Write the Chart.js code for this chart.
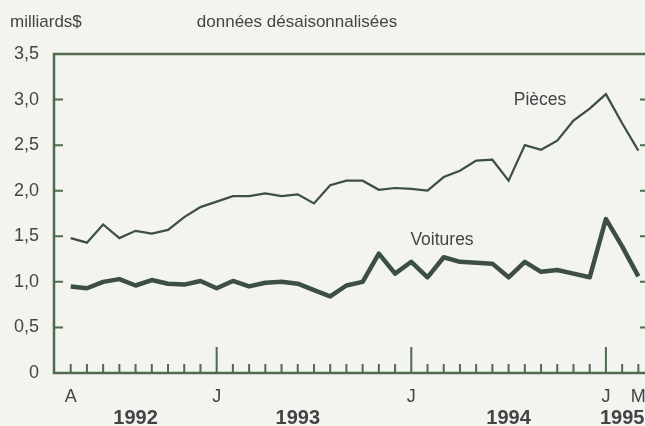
<!DOCTYPE html>
<html><head><meta charset="utf-8">
<script src="https://cdn.jsdelivr.net/npm/chart.js@4.4.1/dist/chart.umd.min.js"></script>
<style>
html,body{margin:0;padding:0;background:#f3f3f0;overflow:hidden}
#wrap{width:645px;height:426px;position:relative}
</style></head>
<body><div id="wrap"><canvas id="c"></canvas></div>
<script>
const BG='#f3f3f0', AXIS='#4f6b4c', LINE='#3c4f40', TXT='#444';
const FONT='"Liberation Sans", Arial, sans-serif';

// months, avr. 1992 -> mars 1995
const months = ['1992-04','1992-05','1992-06','1992-07','1992-08','1992-09','1992-10','1992-11','1992-12',
  '1993-01','1993-02','1993-03','1993-04','1993-05','1993-06','1993-07','1993-08','1993-09','1993-10','1993-11','1993-12',
  '1994-01','1994-02','1994-03','1994-04','1994-05','1994-06','1994-07','1994-08','1994-09','1994-10','1994-11','1994-12',
  '1995-01','1995-02','1995-03'];
const pieces = [1.48,1.43,1.63,1.48,1.56,1.53,1.57,1.71,1.82,
  1.88,1.94,1.94,1.97,1.94,1.96,1.86,2.06,2.11,2.11,2.01,2.03,
  2.02,2.00,2.15,2.22,2.33,2.34,2.11,2.50,2.45,2.55,2.77,2.90,
  3.06,2.74,2.44];
const voitures = [0.95,0.93,1.00,1.03,0.96,1.02,0.98,0.97,1.01,
  0.93,1.01,0.95,0.99,1.00,0.98,0.91,0.84,0.96,1.00,1.31,1.09,
  1.22,1.05,1.27,1.22,1.21,1.20,1.05,1.22,1.11,1.13,1.09,1.05,
  1.69,1.39,1.06];
const monthLabels = {'1992-04':'A','1993-01':'J','1994-01':'J','1995-01':'J','1995-03':'M'};
const yearLabels = {'1992-08':'1992','1993-06':'1993','1994-07':'1994','1995-02':'1995'};
const majorTicks = ['1993-01','1994-01','1995-01'];
const yTicks = [0,0.5,1,1.5,2,2.5,3,3.5];

const pts = arr => arr.map((v,i)=>({x:i,y:v}));
const idxTicks = s => { s.ticks = months.map((m,i)=>({value:i})); };

const frame = {
  id:'frame',
  beforeDraw(c){
    const ctx=c.ctx; ctx.save(); ctx.fillStyle=BG; ctx.fillRect(0,0,c.width,c.height); ctx.restore();
  },
  afterDraw(c){
    const {ctx, chartArea:a, scales:{x,y}} = c;
    ctx.save();
    ctx.strokeStyle=AXIS; ctx.lineWidth=2.5; ctx.lineCap='butt';
    ctx.beginPath();
    ctx.moveTo(a.right+2,a.top); ctx.lineTo(a.left,a.top); ctx.lineTo(a.left,a.bottom); ctx.lineTo(a.right+2,a.bottom);
    ctx.stroke();
    ctx.lineWidth=2;
    ctx.beginPath();
    yTicks.slice(1,-1).forEach(v=>{
      const py=y.getPixelForValue(v);
      ctx.moveTo(a.left,py); ctx.lineTo(a.left+9,py);
      ctx.moveTo(a.right,py); ctx.lineTo(a.right-5,py);
    });
    months.forEach((m,i)=>{
      const px=x.getPixelForValue(i), len=majorTicks.includes(m)?26:9;
      ctx.moveTo(px,a.bottom); ctx.lineTo(px,a.bottom-len);
    });
    ctx.stroke();
    ctx.fillStyle=TXT; ctx.textBaseline='middle';
    ctx.font='17px '+FONT;
    ctx.textAlign='left'; ctx.fillText('milliards$',10,22);
    ctx.textAlign='center'; ctx.fillText('données désaisonnalisées',297,22);
    ctx.font='17.5px '+FONT;
    ctx.fillText('Pièces',540,100);
    ctx.fillText('Voitures',442,240);
    ctx.restore();
  }
};

new Chart(document.getElementById('c'), {
  type:'line',
  data:{datasets:[
    {label:'Pièces', data:pts(pieces), borderColor:LINE, borderWidth:2.2, pointRadius:0, tension:0},
    {label:'Voitures', data:pts(voitures), borderColor:LINE, borderWidth:4.5, pointRadius:0, tension:0, borderJoinStyle:'round'}
  ]},
  options:{
    responsive:true, maintainAspectRatio:false, animation:false,
    layout:{padding:{top:54,left:0,right:0,bottom:0}},
    plugins:{legend:{display:false}, tooltip:{enabled:false}},
    scales:{
      x:{type:'linear', position:'bottom', min:-1.03, max:35.41,
        grid:{display:false, drawTicks:false}, border:{display:false},
        afterBuildTicks:idxTicks,
        afterFit:s=>{s.height=32; s.paddingLeft=0; s.paddingRight=0;},
        ticks:{autoSkip:false, maxRotation:0, padding:13, color:TXT, font:{family:FONT,size:18},
          callback:v=>monthLabels[months[v]]||''}},
      x2:{type:'linear', position:'bottom', min:-1.03, max:35.41,
        grid:{display:false, drawTicks:false}, border:{display:false},
        afterBuildTicks:idxTicks,
        afterFit:s=>{s.height=21; s.paddingLeft=0; s.paddingRight=0;},
        ticks:{autoSkip:false, maxRotation:0, padding:1, color:TXT, font:{family:FONT,size:20,weight:'bold'},
          callback:v=>yearLabels[months[v]]||''}},
      y:{min:0, max:3.5,
        grid:{display:false, drawTicks:false}, border:{display:false},
        afterBuildTicks:s=>{s.ticks=yTicks.map(v=>({value:v}));},
        afterFit:s=>{s.width=54; s.paddingTop=0; s.paddingBottom=0;},
        ticks:{padding:15, color:TXT, font:{family:FONT,size:18},
          callback:v=>v===0?'0':v.toFixed(1).replace('.',',')}}
    }
  },
  plugins:[frame]
});
</script></body></html>
